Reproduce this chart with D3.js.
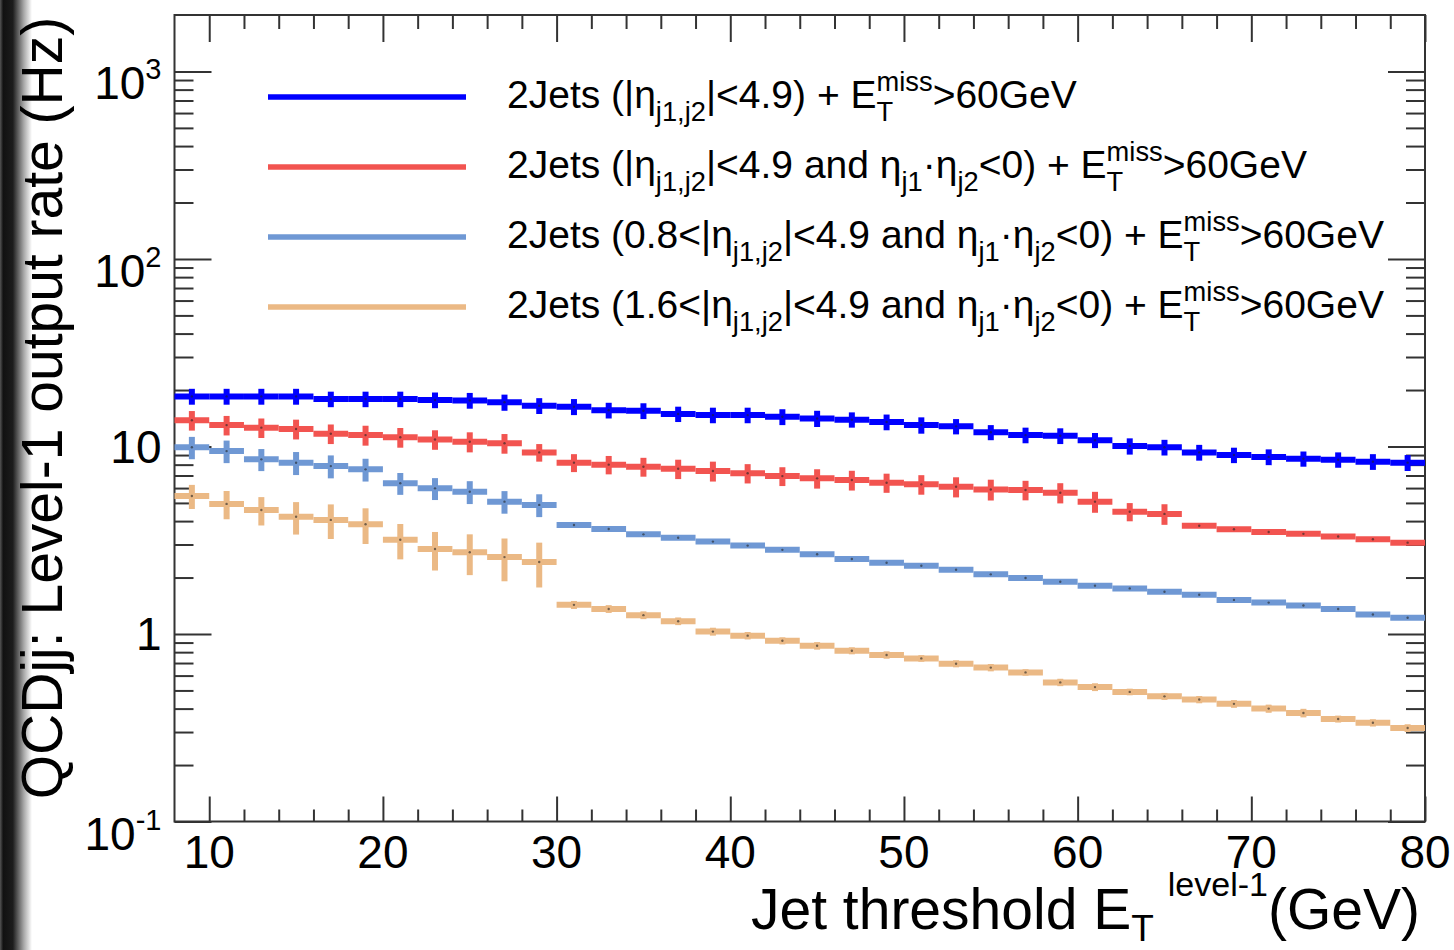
<!DOCTYPE html>
<html>
<head>
<meta charset="utf-8">
<script src="https://cdn.jsdelivr.net/npm/d3@7"></script>
<style>
  body { margin: 0; background: #fff; }
  svg { display: block; font-family: "Liberation Sans", Arial, Helvetica, sans-serif; }
</style>
</head>
<body>
<script>
// bin centres (2 GeV wide bins from 8 to 80)
var binCenters = [9,11,13,15,17,19,21,23,25,27,29,31,33,35,37,39,41,43,45,47,49,51,53,55,57,59,61,63,65,67,69,71,73,75,77,79];

var rateAll = [18.5,18.5,18.5,18.5,17.9,17.9,17.9,17.7,17.6,17.2,16.5,16.3,15.6,15.5,14.9,14.7,14.7,14.4,14.1,13.9,13.5,13.0,12.8,11.9,11.5,11.4,10.8,10.05,9.9,9.3,9.0,8.8,8.6,8.5,8.3,8.2];
var errAll = [1.8,1.8,1.8,1.8,1.7,1.7,1.7,1.7,1.7,1.7,1.6,1.6,1.5,1.5,1.4,1.4,1.4,1.4,1.4,1.3,1.3,1.3,1.2,1.1,1.1,1.1,1.0,1.0,0.95,0.9,0.85,0.85,0.8,0.8,0.8,0.8];

var rateOpp = [13.8,13.0,12.6,12.4,11.7,11.5,11.2,10.9,10.6,10.4,9.3,8.2,8.0,7.8,7.6,7.4,7.2,6.95,6.76,6.62,6.41,6.28,6.1,5.9,5.86,5.67,5.08,4.49,4.37,3.78,3.62,3.50,3.42,3.31,3.20,3.07];
var errOpp = [1.65,1.55,1.5,1.5,1.4,1.4,1.35,1.3,1.3,1.25,1.0,0.9,0.9,0.9,0.9,0.9,0.85,0.8,0.8,0.8,0.75,0.75,0.75,0.75,0.7,0.7,0.65,0.5,0.55,0.07,0.07,0.07,0.06,0.06,0.06,0.06];

var rateGap08 = [9.9,9.45,8.54,8.19,7.86,7.55,6.37,5.98,5.73,5.08,4.88,3.81,3.63,3.40,3.26,3.11,2.96,2.81,2.66,2.51,2.40,2.31,2.20,2.08,1.99,1.90,1.81,1.75,1.68,1.62,1.52,1.47,1.42,1.36,1.27,1.22];
var errGap08 = [1.35,1.3,1.15,1.15,1.1,1.05,0.85,0.8,0.8,0.7,0.68,0.08,0.08,0.07,0.07,0.07,0.06,0.06,0.06,0.05,0.05,0.05,0.05,0.05,0.04,0.04,0.04,0.04,0.04,0.04,0.03,0.03,0.03,0.03,0.03,0.03];

var rateGap16 = [5.44,4.94,4.58,4.22,4.06,3.85,3.18,2.84,2.73,2.57,2.42,1.43,1.36,1.26,1.17,1.03,0.98,0.92,0.865,0.814,0.773,0.741,0.694,0.662,0.624,0.552,0.521,0.491,0.465,0.447,0.424,0.400,0.379,0.352,0.336,0.315];
var errGap16 = [0.8,0.85,0.79,0.83,0.85,0.83,0.68,0.66,0.67,0.66,0.65,0.07,0.065,0.06,0.055,0.05,0.045,0.04,0.04,0.035,0.035,0.03,0.03,0.03,0.025,0.025,0.025,0.02,0.02,0.02,0.02,0.02,0.02,0.015,0.015,0.015];

var seriesColors = ["#0000ff", "#f25450", "#6f98d4", "#ebb985"];

// legend: each entry is a list of [text, mode] pieces
var legendLabels = [
  [["2Jets (|η",""],["j1,j2","sub"],["|<4.9) + E",""],["T","sub"],["miss","sup"],[">60GeV",""]],
  [["2Jets (|η",""],["j1,j2","sub"],["|<4.9 and η",""],["j1","sub"],["·η",""],["j2","sub"],["<0) + E",""],["T","sub"],["miss","sup"],[">60GeV",""]],
  [["2Jets (0.8<|η",""],["j1,j2","sub"],["|<4.9 and η",""],["j1","sub"],["·η",""],["j2","sub"],["<0) + E",""],["T","sub"],["miss","sup"],[">60GeV",""]],
  [["2Jets (1.6<|η",""],["j1,j2","sub"],["|<4.9 and η",""],["j1","sub"],["·η",""],["j2","sub"],["<0) + E",""],["T","sub"],["miss","sup"],[">60GeV",""]]
];

var xMajor = [10,20,30,40,50,60,70,80];
var yMajor = [0.1,1,10,100,1000];
var yLabels = [["10","-1"],["1",""],["10",""],["10","2"],["10","3"]];

var width = 1454, height = 950;
var plotLeft = 174.5, plotRight = 1425, plotTop = 15, plotBottom = 821.5;

var svg = d3.select("body").append("svg")
  .attr("width", width)
  .attr("height", height);

// dark shadow strip on the left edge of the picture
var grad = svg.append("defs").append("linearGradient")
  .attr("id", "shade").attr("x1", "0").attr("x2", "1").attr("y1", "0").attr("y2", "0");
grad.append("stop").attr("offset", "0").attr("stop-color", "#555");
grad.append("stop").attr("offset", "0.1").attr("stop-color", "#111");
grad.append("stop").attr("offset", "0.4").attr("stop-color", "#1c1c1c");
grad.append("stop").attr("offset", "0.75").attr("stop-color", "#aaa");
grad.append("stop").attr("offset", "1").attr("stop-color", "#fff");
svg.append("rect").attr("x", 0).attr("y", 0).attr("width", 32).attr("height", height)
  .attr("fill", "url(#shade)");

var x = d3.scaleLinear().domain([8, 80]).range([plotLeft, plotRight]);
var y = d3.scaleLog().domain([0.1, 2000]).range([plotBottom, plotTop]);

var xMinor = d3.range(8, 81, 2).filter(function (d) { return d % 10 !== 0 && d !== 8; });
var yMinor = [];
[0.1, 1, 10, 100, 1000].forEach(function (dec) {
  for (var k = 2; k <= 9; k++) if (k * dec < 2000) yMinor.push(k * dec);
});

function tickStyle(g) {
  g.select(".domain").remove();
  g.selectAll("line").attr("stroke", "#333").attr("stroke-width", 2);
}

// ticks on all four sides, pointing inwards
svg.append("g").attr("transform", "translate(0," + plotBottom + ")")
  .call(d3.axisBottom(x).tickValues(xMajor).tickSize(-25).tickFormat("")).call(tickStyle);
svg.append("g").attr("transform", "translate(0," + plotBottom + ")")
  .call(d3.axisBottom(x).tickValues(xMinor).tickSize(-12).tickFormat("")).call(tickStyle);
svg.append("g").attr("transform", "translate(0," + plotTop + ")")
  .call(d3.axisTop(x).tickValues(xMajor).tickSize(-27).tickFormat("")).call(tickStyle);
svg.append("g").attr("transform", "translate(0," + plotTop + ")")
  .call(d3.axisTop(x).tickValues(xMinor).tickSize(-14).tickFormat("")).call(tickStyle);
svg.append("g").attr("transform", "translate(" + plotLeft + ",0)")
  .call(d3.axisLeft(y).tickValues(yMajor).tickSize(-37).tickFormat("")).call(tickStyle);
svg.append("g").attr("transform", "translate(" + plotLeft + ",0)")
  .call(d3.axisLeft(y).tickValues(yMinor).tickSize(-19).tickFormat("")).call(tickStyle);
svg.append("g").attr("transform", "translate(" + plotRight + ",0)")
  .call(d3.axisRight(y).tickValues(yMajor).tickSize(-37).tickFormat("")).call(tickStyle);
svg.append("g").attr("transform", "translate(" + plotRight + ",0)")
  .call(d3.axisRight(y).tickValues(yMinor).tickSize(-19).tickFormat("")).call(tickStyle);

svg.append("rect")
  .attr("x", plotLeft).attr("y", plotTop)
  .attr("width", plotRight - plotLeft).attr("height", plotBottom - plotTop)
  .attr("fill", "none").attr("stroke", "#333").attr("stroke-width", 2);

// x tick labels
svg.selectAll(".xlab").data(xMajor).enter().append("text")
  .attr("x", function (d) { return x(d); })
  .attr("y", plotBottom + 46)
  .attr("text-anchor", "middle")
  .attr("font-size", 46)
  .text(function (d) { return d; });

// y tick labels with exponents
yMajor.forEach(function (v, i) {
  var lab = yLabels[i];
  var t = svg.append("text")
    .attr("x", plotLeft - 13)
    .attr("y", y(v) + (lab[1] ? 28 : 16.5))
    .attr("text-anchor", "end")
    .attr("font-size", 46);
  t.append("tspan").text(lab[0]);
  if (lab[1]) t.append("tspan").attr("font-size", 29).attr("dy", -20).text(lab[1]);
});

// axis titles
svg.append("text")
  .attr("transform", "translate(62,408) rotate(-90)")
  .attr("text-anchor", "middle")
  .attr("font-size", 57)
  .text("QCDjj: Level-1 output rate (Hz)");

var xt = svg.append("text")
  .attr("x", 1420).attr("y", 929)
  .attr("text-anchor", "end")
  .attr("font-size", 57);
xt.append("tspan").text("Jet threshold E");
xt.append("tspan").attr("font-size", 37).attr("dy", 12).text("T");
xt.append("tspan").attr("font-size", 34).attr("dx", 14).attr("dy", -45).text("level-1");
xt.append("tspan").attr("dy", 33).text("(GeV)");

// histograms drawn as horizontal bin bars plus vertical error bars
var series = [
  { rate: rateAll, err: errAll },
  { rate: rateOpp, err: errOpp },
  { rate: rateGap08, err: errGap08 },
  { rate: rateGap16, err: errGap16 }
];

series.forEach(function (s, si) {
  var g = svg.append("g").attr("stroke", seriesColors[si]).attr("stroke-width", 6);
  var pts = binCenters.map(function (c, i) { return { c: c, v: s.rate[i], e: s.err[i] }; });
  g.selectAll(".h").data(pts).enter().append("line")
    .attr("x1", function (d) { return x(d.c - 1); })
    .attr("x2", function (d) { return x(d.c + 1); })
    .attr("y1", function (d) { return y(d.v); })
    .attr("y2", function (d) { return y(d.v); });
  g.selectAll(".v").data(pts).enter().append("line")
    .attr("x1", function (d) { return x(d.c); })
    .attr("x2", function (d) { return x(d.c); })
    .attr("y1", function (d) { return y(d.v - d.e); })
    .attr("y2", function (d) { return y(d.v + d.e); });
  svg.append("g").selectAll("circle").data(pts).enter().append("circle")
    .attr("cx", function (d) { return x(d.c); })
    .attr("cy", function (d) { return y(d.v); })
    .attr("r", 1.2)
    .attr("fill", "#222").attr("opacity", 0.6);
});

// legend
function richText(t, pieces, base) {
  var shift = 0, lastSub = null;
  pieces.forEach(function (p) {
    var txt = p[0], mode = p[1];
    var target = mode === "sub" ? 13 : mode === "sup" ? -17 : 0;
    var ts = t.append("tspan")
      .attr("font-size", mode ? base * 0.7 : base)
      .attr("dy", target - shift)
      .text(txt);
    if (mode === "sup" && lastSub) ts.attr("dx", -lastSub.node().getComputedTextLength());
    lastSub = mode === "sub" ? ts : null;
    shift = target;
  });
}

legendLabels.forEach(function (lab, i) {
  var ly = 97 + i * 70;
  svg.append("line")
    .attr("x1", 268).attr("x2", 466)
    .attr("y1", ly).attr("y2", ly)
    .attr("stroke", seriesColors[i]).attr("stroke-width", 5.5);
  var t = svg.append("text").attr("x", 507).attr("y", ly + 11).attr("font-size", 39);
  richText(t, lab, 39);
});
</script>
</body>
</html>
